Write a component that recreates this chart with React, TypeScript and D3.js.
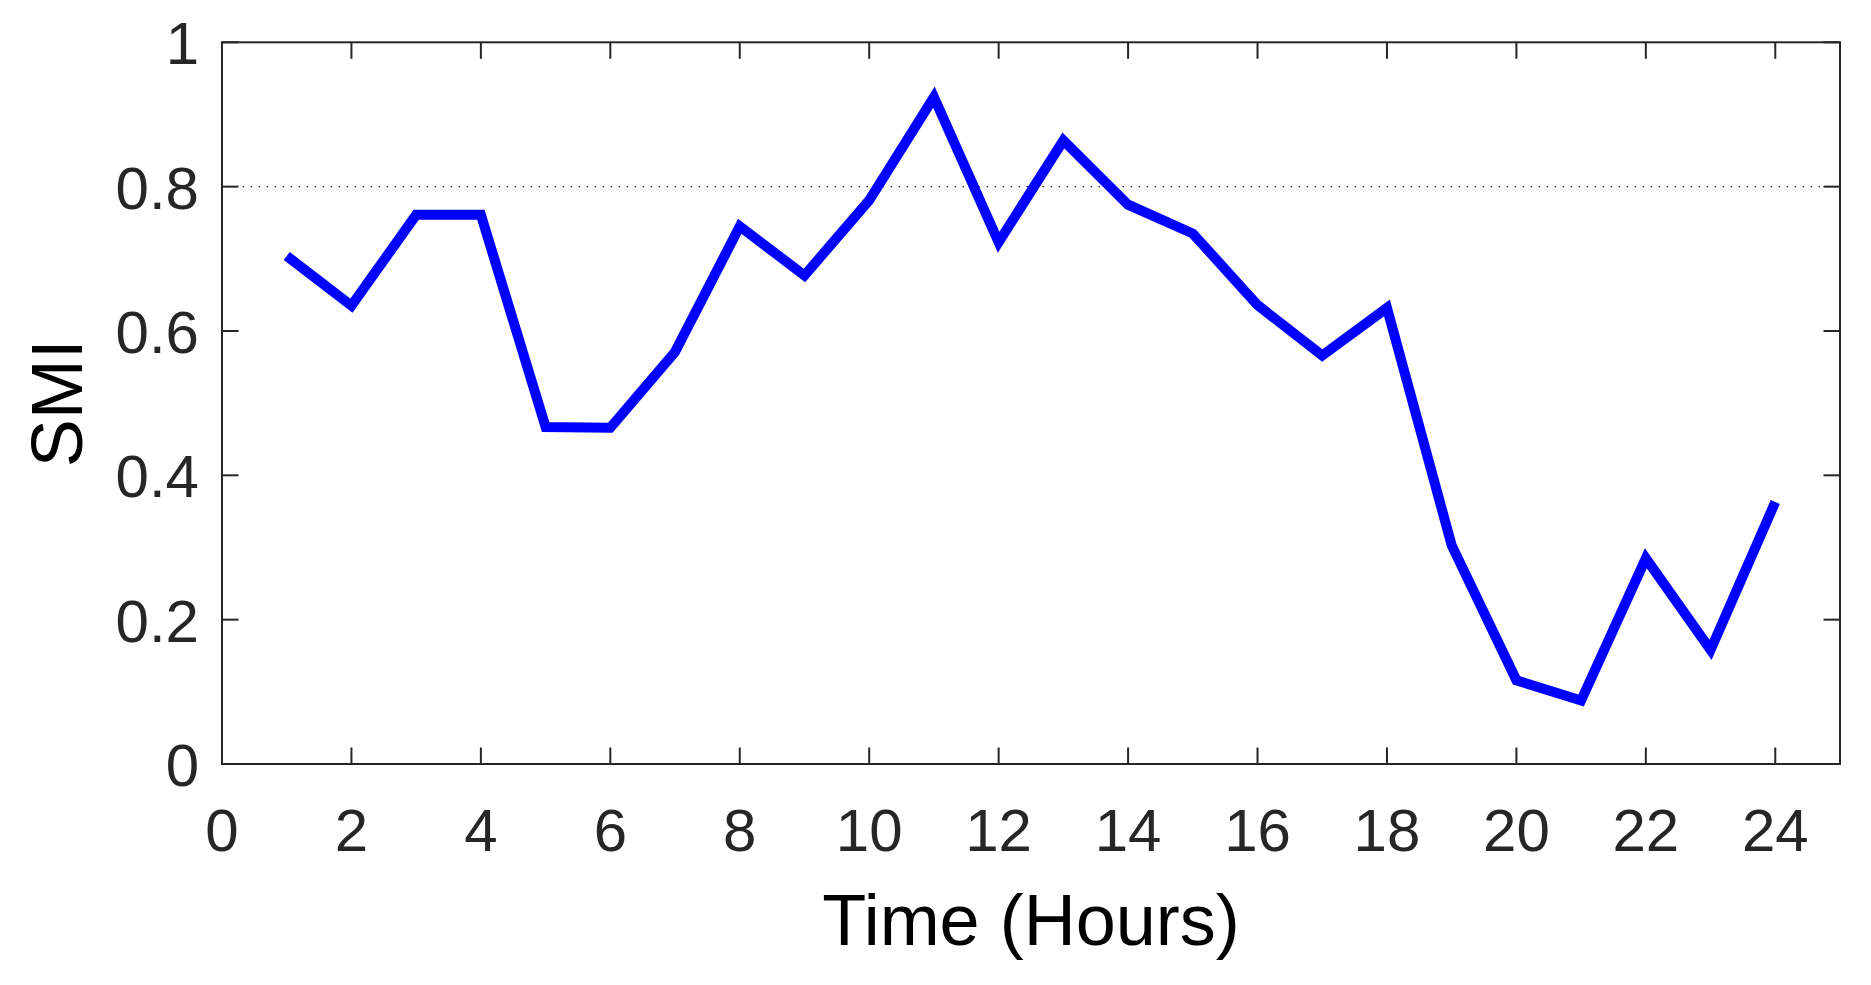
import React from "react";
import * as d3 from "d3";

const hours = [1, 2, 3, 4, 5, 6, 7, 8, 9, 10, 11, 12, 13, 14, 15, 16, 17, 18, 19, 20, 21, 22, 23, 24];
const smi = [
  0.704, 0.635, 0.761, 0.761, 0.467, 0.466, 0.571, 0.745, 0.677, 0.781, 0.924, 0.723,
  0.864, 0.775, 0.735, 0.636, 0.566, 0.632, 0.303, 0.116, 0.088, 0.285, 0.158, 0.363,
];
const xTicks = [0, 2, 4, 6, 8, 10, 12, 14, 16, 18, 20, 22, 24];
const yTicks = [0, 0.2, 0.4, 0.6, 0.8, 1];
const yTickLabels = ["0", "0.2", "0.4", "0.6", "0.8", "1"];
const refLine = [0.8];

const W = 1871;
const H = 985;
const L = 222;
const R = 1840;
const T = 42.3;
const B = 764;
const axisColor = "#262626";
const font = "'Liberation Sans', Arial, Helvetica, sans-serif";

export default function App() {
  const x = d3.scaleLinear().domain([0, 25]).range([L, R]);
  const y = d3.scaleLinear().domain([0, 1]).range([B, T]);
  const line = d3
    .line<number>()
    .x((_, i) => x(hours[i]))
    .y((d) => y(d));
  const tickLen = 16.5;

  return (
    <svg
      width={W}
      height={H}
      style={{ position: "absolute", left: 0, top: 0, background: "#fff" }}
    >
      <rect x={0} y={0} width={W} height={H} fill="#fff" />
      {refLine.map((v) => (
        <line
          key={v}
          x1={L}
          x2={R}
          y1={y(v)}
          y2={y(v)}
          stroke={axisColor}
          strokeWidth={1.2}
          strokeDasharray="1.5,6.5"
          strokeDashoffset={-4.5}
        />
      ))}
      <path
        d={line(smi) || ""}
        fill="none"
        stroke="#0000ff"
        strokeWidth={10}
        strokeLinejoin="miter"
        strokeLinecap="butt"
      />
      {/* box */}
      <rect x={L} y={T} width={R - L} height={B - T} fill="none" stroke={axisColor} strokeWidth={2} />
      {/* x ticks */}
      {xTicks.map((t) => (
        <g key={"x" + t}>
          <line x1={x(t)} x2={x(t)} y1={B} y2={B - tickLen} stroke={axisColor} strokeWidth={2} />
          <line x1={x(t)} x2={x(t)} y1={T} y2={T + tickLen} stroke={axisColor} strokeWidth={2} />
          <text
            x={x(t)}
            y={850.7}
            textAnchor="middle"
            fontFamily={font}
            fontSize={60}
            fill={axisColor}
          >
            {t}
          </text>
        </g>
      ))}
      {/* y ticks */}
      {yTicks.map((t, i) => (
        <g key={"y" + t}>
          <line x1={L} x2={L + tickLen} y1={y(t)} y2={y(t)} stroke={axisColor} strokeWidth={2} />
          <line x1={R} x2={R - tickLen} y1={y(t)} y2={y(t)} stroke={axisColor} strokeWidth={2} />
          <text
            x={199}
            y={y(t) + 22}
            textAnchor="end"
            fontFamily={font}
            fontSize={60}
            fill={axisColor}
          >
            {yTickLabels[i]}
          </text>
        </g>
      ))}
      <text
        x={(L + R) / 2}
        y={945}
        textAnchor="middle"
        fontFamily={font}
        fontSize={72}
        fill="#000"
      >
        Time (Hours)
      </text>
      <text
        transform={`translate(81.7, ${(T + B) / 2}) rotate(-90)`}
        textAnchor="middle"
        fontFamily={font}
        fontSize={72}
        fill="#000"
      >
        SMI
      </text>
    </svg>
  );
}
